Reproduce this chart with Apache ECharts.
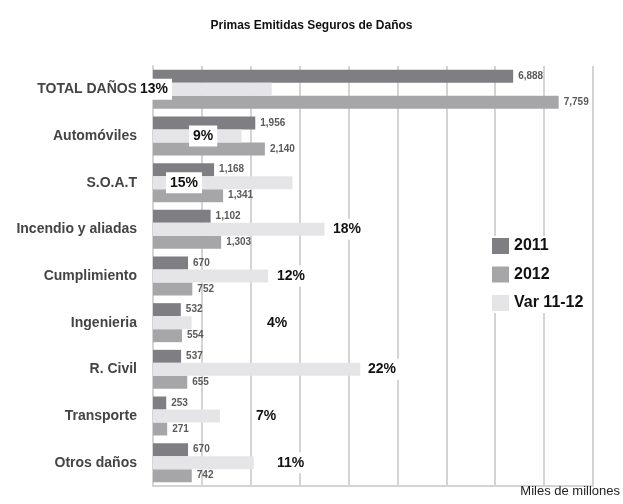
<!DOCTYPE html>
<html>
<head>
<meta charset="utf-8">
<script src="https://cdn.jsdelivr.net/npm/echarts@6/dist/echarts.min.js"></script>
<style>
  html, body { margin: 0; padding: 0; background: #fff; }
  #chart { width: 623px; height: 504px; }
</style>
</head>
<body>
<div id="chart"></div>
<script>
// data
const categories = ['TOTAL DAÑOS', 'Automóviles', 'S.O.A.T', 'Incendio y aliadas', 'Cumplimiento', 'Ingenieria', 'R. Civil', 'Transporte', 'Otros daños']
const primas2011 = [6888, 1956, 1168, 1102, 670, 532, 537, 253, 670]
const primas2012 = [7759, 2140, 1341, 1303, 752, 554, 655, 271, 742]
const var1112 = [12.6, 9.4, 14.8, 18.2, 12.2, 4.1, 22.0, 7.1, 10.7] // %

// where the % boxes sit, measured from the bar base (px)
const varLabelDx = [-17, 36, 13, 176, 120, 110, 211, 99, 120]

const font = "'Liberation Sans', Arial, sans-serif"

const chart = echarts.init(document.getElementById('chart'))

chart.setOption({
  animation: false,
  title: [{
    text: 'Primas Emitidas Seguros de Daños',
    left: 'center',
    top: 15,
    textStyle: { fontFamily: font, fontSize: 12, fontWeight: 'bold', color: '#111' }
  }, {
    text: 'Miles de millones',
    right: -2,
    bottom: 1,
    textStyle: { fontFamily: font, fontSize: 13, fontWeight: 'normal', color: '#222' }
  }],
  legend: {
    orient: 'vertical',
    left: 490,
    top: 236,
    data: ['2011', '2012', 'Var 11-12'],
    icon: 'rect',
    itemWidth: 17,
    itemHeight: 16,
    itemGap: 12.5,
    padding: 2,
    backgroundColor: '#fff',
    textStyle: { fontFamily: font, fontSize: 16, fontWeight: 'bold', color: '#111' }
  },
  grid: {
    left: 153,
    right: 30,
    top: 66,
    bottom: 18,
    outerBoundsMode: 'none'
  },
  xAxis: [{
    type: 'value',
    min: 0,
    max: 8415,
    interval: 935,
    axisLabel: { show: false },
    axisTick: { show: false },
    axisLine: { show: true, lineStyle: { color: '#d4d4d4', width: 2 } },
    splitLine: { lineStyle: { color: '#d4d4d4', width: 2 } }
  }, {
    type: 'value',
    min: 0,
    max: 46.7,
    show: false,
    splitLine: { show: false }
  }],
  yAxis: {
    type: 'category',
    inverse: true,
    data: categories,
    axisTick: { show: false },
    axisLine: { show: true, lineStyle: { color: '#d4d4d4', width: 2 } },
    axisLabel: { margin: 16, fontFamily: font, fontSize: 14, fontWeight: 'bold', color: '#444' }
  },
  series: [{
    name: '2011',
    type: 'bar',
    barWidth: 13,
    barGap: '0%',
    data: primas2011,
    itemStyle: { color: '#7f7f83' },
    label: {
      show: true,
      position: 'right',
      distance: 5,
      formatter: p => p.value.toLocaleString('en-US'),
      fontFamily: font, fontSize: 10, fontWeight: 'bold', color: '#5a5a5a'
    }
  }, {
    name: 'Var 11-12',
    type: 'bar',
    xAxisIndex: 1,
    barWidth: 13,
    barGap: '0%',
    z: 3,
    itemStyle: { color: '#e5e5e7' },
    data: var1112.map((v, i) => ({
      value: v,
      label: { position: [varLabelDx[i], '50%'] }
    })),
    label: {
      show: true,
      verticalAlign: 'middle',
      formatter: p => Math.round(p.value) + '%',
      backgroundColor: '#fff',
      padding: [4, 4, 3, 4],
      fontFamily: font, fontSize: 14, fontWeight: 'bold', color: '#111'
    }
  }, {
    name: '2012',
    type: 'bar',
    barWidth: 13,
    barGap: '0%',
    data: primas2012,
    itemStyle: { color: '#a6a6a9' },
    label: {
      show: true,
      position: 'right',
      distance: 5,
      formatter: p => p.value.toLocaleString('en-US'),
      fontFamily: font, fontSize: 10, fontWeight: 'bold', color: '#5a5a5a'
    }
  }]
})
</script>
</body>
</html>
